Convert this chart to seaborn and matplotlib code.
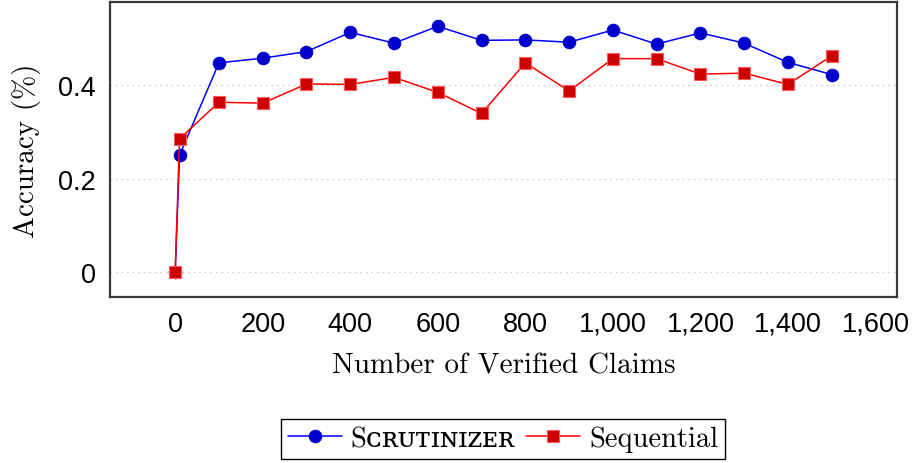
import matplotlib
matplotlib.use("Agg")
import matplotlib.pyplot as plt
import seaborn as sns
import pandas as pd
from matplotlib.ticker import FuncFormatter

claims = [0, 10, 100, 200, 300, 400, 500, 600, 700, 800, 900, 1000, 1100, 1200, 1300, 1400, 1500]
scrutinizer = [0.0, 0.25, 0.447, 0.457, 0.471, 0.512, 0.489, 0.525, 0.495, 0.496, 0.491, 0.517,
               0.487, 0.511, 0.489, 0.448, 0.422]
sequential = [0.0, 0.285, 0.363, 0.361, 0.402, 0.401, 0.416, 0.384, 0.339, 0.447, 0.387, 0.456,
              0.456, 0.423, 0.425, 0.401, 0.462]
series_names = ["Sᴄʀᴜᴛɪɴɪᴢᴇʀ", "Sequential"]
x_ticks = [0, 200, 400, 600, 800, 1000, 1200, 1400, 1600]
y_ticks = [0, 0.2, 0.4]
y_tick_labels = ["0", "0.2", "0.4"]

sns.set_theme(style="white")
plt.rcParams["font.family"] = ["Liberation Sans", "DejaVu Sans"]
plt.rcParams["text.color"] = "black"
plt.rcParams["axes.labelcolor"] = "black"
serif = ["cmr10", "DejaVu Serif"]

fig = plt.figure(figsize=(9.15, 4.64), dpi=100)
ax = fig.add_axes([0.1197, 0.3578, 0.9807 - 0.1197, 0.9942 - 0.3578])

df_a = pd.DataFrame({"claims": claims, "acc": scrutinizer})
df_b = pd.DataFrame({"claims": claims, "acc": sequential})

sns.lineplot(data=df_a, x="claims", y="acc", ax=ax, color=(0, 0, 1), lw=1.1,
             marker="o", markersize=9, markerfacecolor=(0, 0, 0.8),
             markeredgecolor=(0, 0, 0.8), label=series_names[0], zorder=3)
sns.lineplot(data=df_b, x="claims", y="acc", ax=ax, color=(1, 0, 0), lw=1.1,
             marker="s", markersize=9, markerfacecolor=(0.8, 0, 0),
             markeredgecolor=(1, 0.35, 0.35), markeredgewidth=0.8,
             label=series_names[1], zorder=4)

ax.set_xlim(-150, 1650)
ax.set_ylim(-0.0525, 0.5775)
ax.set_xticks(x_ticks)
ax.xaxis.set_major_formatter(FuncFormatter(lambda v, p: f"{int(v):,}"))
ax.set_yticks(y_ticks)
ax.set_yticklabels(y_tick_labels)
ax.tick_params(axis="both", length=0, labelsize=19.5, colors="black", pad=10)
ax.yaxis.grid(True, linestyle=(0, (1, 3)), color="#c8c8c8", lw=1)
ax.xaxis.grid(False)
for s in ax.spines.values():
    s.set_color("#3a3a3a")
    s.set_linewidth(1.6)

ax.set_xlabel("Number of Verified Claims", family=serif, fontsize=21, labelpad=11, color="black")
ax.set_ylabel("Accuracy (%)", family=serif, fontsize=21, labelpad=12, color="black")

handles, labels = ax.get_legend_handles_labels()
ax.get_legend().remove()
leg = fig.legend(handles, labels, loc="center", bbox_to_anchor=(503 / 915, 1 - 440 / 464),
                 ncol=2, frameon=True, fancybox=False, edgecolor="black", framealpha=1,
                 prop={"family": serif, "size": 20.5}, handlelength=1.9, handletextpad=0.3,
                 columnspacing=0.4, borderpad=0.25, borderaxespad=0)
leg.get_frame().set_linewidth(1.0)
for t in leg.get_texts():
    t.set_color("black")

fig.savefig("out.png", dpi=100)
